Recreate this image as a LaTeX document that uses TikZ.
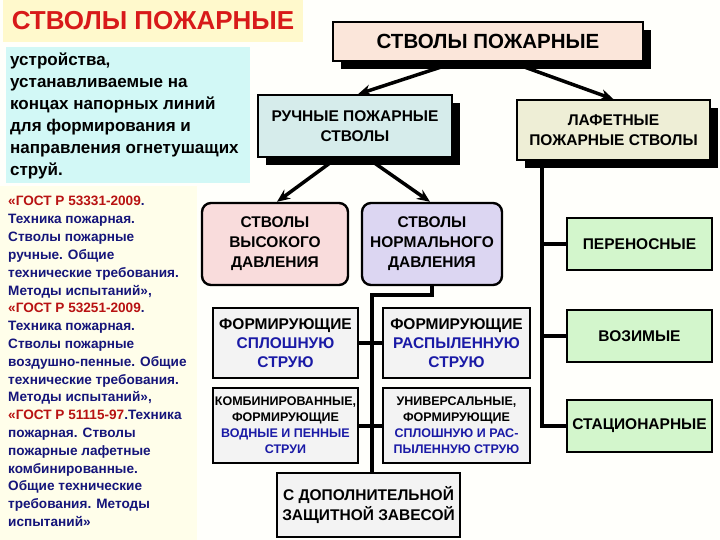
\documentclass[tikz,border=0pt]{standalone}
\usepackage{fontspec}
\setmainfont{Liberation Sans}
\usetikzlibrary{arrows.meta,shadows}
\definecolor{bgc}{HTML}{FFFFFB}
\definecolor{titlebg}{HTML}{FFF9CC}
\definecolor{titlered}{HTML}{D81A1A}
\definecolor{cyanbg}{HTML}{D2F8F6}
\definecolor{gostbg}{HTML}{FFFEEA}
\definecolor{navy}{HTML}{15157A}
\definecolor{gred}{HTML}{B81212}
\definecolor{peach}{HTML}{FBE6DA}
\definecolor{ruchc}{HTML}{D6ECEB}
\definecolor{lafc}{HTML}{EEEED6}
\definecolor{pinkc}{HTML}{F9DCDC}
\definecolor{lavc}{HTML}{DCD6F2}
\definecolor{grayc}{HTML}{F3F3F3}
\definecolor{greenc}{HTML}{D3F6CC}
\definecolor{bluet}{HTML}{1A1AA6}
\begin{document}
\begin{tikzpicture}[x=1pt,y=-1pt,
  box/.style={draw=black, line width=1.6pt, align=center, inner sep=0pt},
  shadowbox/.style={box, drop shadow={shadow xshift=8pt,shadow yshift=-8pt,fill=black,opacity=1}},
  plainbox/.style={box, line width=2.6pt, fill=grayc},
  greenbox/.style={box, line width=2.6pt, fill=greenc, minimum width=145pt, minimum height=52pt, font=\bfseries\fontsize{15.5}{18}\selectfont},
  rbox/.style={box, line width=2.4pt, rounded corners=9pt, minimum width=143pt, minimum height=82pt, font=\bfseries\fontsize{15.5}{20}\selectfont},
  conn/.style={line width=4pt},
  arr/.style={line width=3.5pt, -{Stealth[length=13pt,width=11pt]}},
  cyanline/.style={anchor=base west, inner sep=0pt, font=\bfseries\fontsize{17}{22}\selectfont},
  gostline/.style={anchor=base west, inner sep=0pt, text=navy, font=\bfseries\fontsize{13.6}{17}\selectfont}
]
\useasboundingbox (0,0) rectangle (720,540);
\fill[bgc] (0,0) rectangle (720,540);
% left panel
\fill[titlebg] (3,0) rectangle (303,42);
\node[anchor=base, inner sep=0pt, text=titlered, font=\bfseries\fontsize{26}{30}\selectfont] (title) at (153,29.5) {СТВОЛЫ ПОЖАРНЫЕ};
\fill[cyanbg] (6,47) rectangle (250,183);
\node[cyanline] (c1) at (10,66) {устройства,};
\node[cyanline] (c2) at (10,88) {устанавливаемые на};
\node[cyanline] (c3) at (10,110) {концах напорных линий};
\node[cyanline] (c4) at (10,132) {для формирования и};
\node[cyanline] (c5) at (10,154) {направления огнетушащих};
\node[cyanline] (c6) at (10,176) {струй.};
\fill[gostbg] (0,186) rectangle (197,540);
\node[gostline] (g1) at (8,206) {\textcolor{gred}{«ГОСТ Р 53331-2009}.};
\node[gostline] (g2) at (8,223.8) {Техника пожарная.};
\node[gostline] (g3) at (8,241.6) {Стволы пожарные};
\node[gostline] (g4) at (8,259.4) {ручные. Общие};
\node[gostline] (g5) at (8,277.2) {технические требования.};
\node[gostline] (g6) at (8,295) {Методы испытаний»,};
\node[gostline] (g7) at (8,312.8) {\textcolor{gred}{«ГОСТ Р 53251-2009}.};
\node[gostline] (g8) at (8,330.6) {Техника пожарная.};
\node[gostline] (g9) at (8,348.4) {Стволы пожарные};
\node[gostline] (g10) at (8,366.2) {воздушно-пенные. Общие};
\node[gostline] (g11) at (8,384) {технические требования.};
\node[gostline] (g12) at (8,401.8) {Методы испытаний»,};
\node[gostline] (g13) at (8,419.6) {\textcolor{gred}{«ГОСТ Р 51115-97}.Техника};
\node[gostline] (g14) at (8,437.4) {пожарная. Стволы};
\node[gostline] (g15) at (8,455.2) {пожарные лафетные};
\node[gostline] (g16) at (8,473) {комбинированные.};
\node[gostline] (g17) at (8,490.8) {Общие технические};
\node[gostline] (g18) at (8,508.6) {требования. Методы};
\node[gostline] (g19) at (8,526.4) {испытаний»};
% tree
\node[shadowbox, fill=peach, minimum width=310pt, minimum height=39pt, font=\bfseries\fontsize{20.5}{22}\selectfont] (top) at (488,41.5) {СТВОЛЫ ПОЖАРНЫЕ};
\node[shadowbox, fill=ruchc, minimum width=194pt, minimum height=62pt, font=\bfseries\fontsize{15.5}{20}\selectfont] (ruch) at (355,126) {РУЧНЫЕ ПОЖАРНЫЕ\\СТВОЛЫ};
\node[shadowbox, fill=lafc, minimum width=193pt, minimum height=60pt, font=\bfseries\fontsize{15.5}{20}\selectfont] (laf) at (613.5,130) {ЛАФЕТНЫЕ\\ПОЖАРНЫЕ СТВОЛЫ};
\node[rbox, fill=pinkc, minimum width=146pt] (high) at (275,244) {СТВОЛЫ\\ВЫСОКОГО\\ДАВЛЕНИЯ};
\node[rbox, fill=lavc, minimum width=140pt] (norm) at (432,244) {СТВОЛЫ\\НОРМАЛЬНОГО\\ДАВЛЕНИЯ};
\node[plainbox, minimum width=145pt, minimum height=70pt, font=\bfseries\fontsize{15.5}{19}\selectfont] (f1) at (285.5,343) {ФОРМИРУЮЩИЕ\\\textcolor{bluet}{СПЛОШНУЮ}\\\textcolor{bluet}{СТРУЮ}};
\node[plainbox, minimum width=147pt, minimum height=70pt, font=\bfseries\fontsize{15.5}{19}\selectfont] (f2) at (456.5,343) {ФОРМИРУЮЩИЕ\\\textcolor{bluet}{РАСПЫЛЕННУЮ}\\\textcolor{bluet}{СТРУЮ}};
\node[plainbox, minimum width=145pt, minimum height=75pt, font=\bfseries\fontsize{12.5}{16}\selectfont] (k1) at (285.5,425.5) {КОМБИНИРОВАННЫЕ,\\ФОРМИРУЮЩИЕ\\\textcolor{bluet}{ВОДНЫЕ И ПЕННЫЕ}\\\textcolor{bluet}{СТРУИ}};
\node[plainbox, minimum width=147pt, minimum height=75pt, font=\bfseries\fontsize{12.5}{16}\selectfont] (u1) at (456.5,425.5) {УНИВЕРСАЛЬНЫЕ,\\ФОРМИРУЮЩИЕ\\\textcolor{bluet}{СПЛОШНУЮ И РАС-}\\\textcolor{bluet}{ПЫЛЕННУЮ СТРУЮ}};
\node[plainbox, minimum width=183pt, minimum height=64pt, font=\bfseries\fontsize{15.5}{20}\selectfont] (dop) at (368.5,505) {С ДОПОЛНИТЕЛЬНОЙ\\ЗАЩИТНОЙ ЗАВЕСОЙ};
\node[greenbox] (per) at (639.5,244) {ПЕРЕНОСНЫЕ};
\node[greenbox] (voz) at (639.5,336) {ВОЗИМЫЕ};
\node[greenbox] (stat) at (639.5,426) {СТАЦИОНАРНЫЕ};
% connectors
\draw[arr] ([xshift=-31pt]top.south) -- ([xshift=3pt]ruch.north);
\draw[arr] ([xshift=22pt]top.south) -- (laf.north);
\draw[arr] ([xshift=-18pt]ruch.south) -- ([xshift=2pt]high.north);
\draw[arr] ([xshift=12pt]ruch.south) -- ([xshift=-2pt]norm.north);
\coordinate (j) at (372,295);
\draw[conn] (norm.south) |- (j) -- (j |- dop.north);
\draw[conn] (f1.east) -- (f2.west);
\draw[conn] (k1.east) -- (u1.west);
\coordinate (r0) at (542,160);
\draw[conn] (r0) |- (stat.west);
\draw[conn] (r0 |- per.west) -- (per.west);
\draw[conn] (r0 |- voz.west) -- (voz.west);
\end{tikzpicture}
\end{document}
